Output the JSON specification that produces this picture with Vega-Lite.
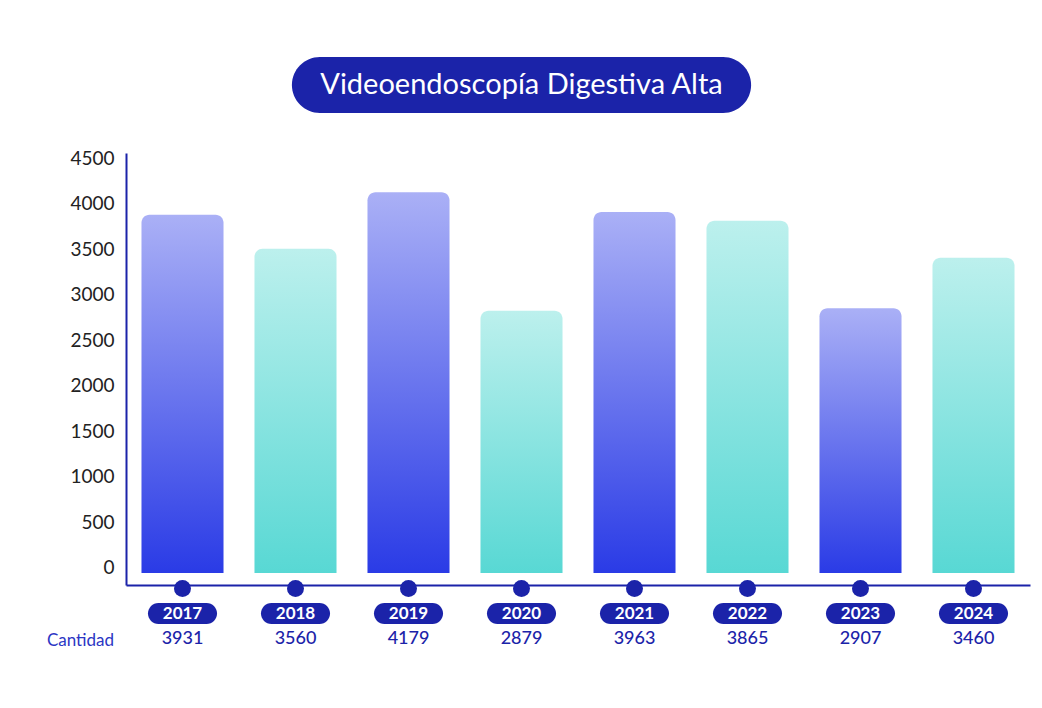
{
  "$schema": "https://vega.github.io/schema/vega-lite/v6.json",
  "width": 904,
  "height": 432,
  "autosize": {"type": "none"},
  "padding": {"left": 126, "top": 153, "right": 12, "bottom": 123},
  "background": "white",
  "config": {"view": {"stroke": null}, "font": "Lato"},
  "data": {
    "values": [
      {"anio": 2017, "valor": 3931},
      {"anio": 2018, "valor": 3560},
      {"anio": 2019, "valor": 4179},
      {"anio": 2020, "valor": 2879},
      {"anio": 2021, "valor": 3963},
      {"anio": 2022, "valor": 3865},
      {"anio": 2023, "valor": 2907},
      {"anio": 2024, "valor": 3460}
    ]
  },
  "encoding": {
    "x": {
      "field": "anio",
      "type": "ordinal",
      "scale": {"paddingInner": 0.274, "paddingOuter": 0.137},
      "axis": {
        "labels": false,
        "ticks": false,
        "domainColor": "#1b23a9",
        "domainWidth": 2,
        "title": "Cantidad",
        "titleX": -46,
        "titleY": 55,
        "titleAlign": "center",
        "titleBaseline": "middle",
        "titleColor": "#2b36c4",
        "titleFontSize": 17,
        "titleFontWeight": "normal",
        "titleFont": "Lato"
      }
    }
  },
  "layer": [
    {
      "transform": [{"filter": "datum.anio % 2 == 1"}],
      "mark": {
        "type": "bar",
        "cornerRadiusTopLeft": 8,
        "cornerRadiusTopRight": 8,
        "color": {
          "gradient": "linear",
          "x1": 0, "y1": 0, "x2": 0, "y2": 1,
          "stops": [
            {"offset": 0, "color": "#aab0f6"},
            {"offset": 1, "color": "#2a3be6"}
          ]
        }
      },
      "encoding": {
        "y": {
          "field": "valor",
          "type": "quantitative",
          "scale": {"domain": [-132, 4610], "nice": false, "zero": false},
          "axis": {
            "values": [0, 500, 1000, 1500, 2000, 2500, 3000, 3500, 4000, 4500],
            "format": "d",
            "title": null,
            "grid": false,
            "ticks": false,
            "domainColor": "#1b23a9",
            "domainWidth": 2,
            "labelFontSize": 19,
            "labelColor": "#222222",
            "labelPadding": 12,
            "labelOffset": -5,
            "labelFont": "Lato"
          }
        },
        "y2": {"datum": 0}
      }
    },
    {
      "transform": [{"filter": "datum.anio % 2 == 0"}],
      "mark": {
        "type": "bar",
        "cornerRadiusTopLeft": 8,
        "cornerRadiusTopRight": 8,
        "color": {
          "gradient": "linear",
          "x1": 0, "y1": 0, "x2": 0, "y2": 1,
          "stops": [
            {"offset": 0, "color": "#bcf0ed"},
            {"offset": 1, "color": "#58d8d4"}
          ]
        }
      },
      "encoding": {
        "y": {"field": "valor", "type": "quantitative"},
        "y2": {"datum": 0}
      }
    },
    {
      "mark": {"type": "point", "shape": "circle", "filled": true, "size": 289, "color": "#1b23a9", "opacity": 1},
      "encoding": {
        "y": {"datum": -170, "type": "quantitative"}
      }
    },
    {
      "mark": {
        "type": "point",
        "shape": "M -2.29 -1 L 2.29 -1 A 1 1 0 0 1 2.29 1 L -2.29 1 A 1 1 0 0 1 -2.29 -1 Z",
        "filled": true,
        "size": 441,
        "color": "#1b23a9",
        "opacity": 1
      },
      "encoding": {
        "y": {"datum": -445, "type": "quantitative"}
      }
    },
    {
      "mark": {"type": "text", "color": "white", "fontSize": 17, "fontWeight": "bold", "baseline": "middle", "align": "center", "font": "Lato"},
      "encoding": {
        "y": {"datum": -445, "type": "quantitative"},
        "text": {"field": "anio", "type": "nominal"}
      }
    },
    {
      "mark": {"type": "text", "color": "#1b23a9", "fontSize": 18, "fontWeight": 500, "baseline": "middle", "align": "center", "font": "Lato"},
      "encoding": {
        "y": {"datum": -724, "type": "quantitative"},
        "text": {"field": "valor", "type": "nominal"}
      }
    },
    {
      "data": {"values": [{"titulo": "Videoendoscopía Digestiva Alta", "pos": 2020}]},
      "mark": {
        "type": "point",
        "shape": "M -7.2 -1 L 7.2 -1 A 1 1 0 0 1 7.2 1 L -7.2 1 A 1 1 0 0 1 -7.2 -1 Z",
        "filled": true,
        "size": 3136,
        "color": "#1b23a9",
        "opacity": 1
      },
      "encoding": {
        "x": {"field": "pos", "type": "ordinal"},
        "y": {"datum": 5357, "type": "quantitative"}
      }
    },
    {
      "data": {"values": [{"titulo": "Videoendoscopía Digestiva Alta", "pos": 2020}]},
      "mark": {"type": "text", "color": "white", "fontSize": 29, "baseline": "middle", "align": "center", "font": "Lato"},
      "encoding": {
        "x": {"field": "pos", "type": "ordinal"},
        "y": {"datum": 5357, "type": "quantitative"},
        "text": {"field": "titulo", "type": "nominal"}
      }
    }
  ]
}
